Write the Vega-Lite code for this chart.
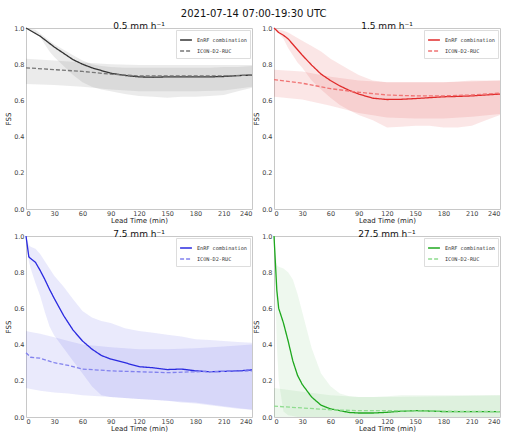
{
  "$schema": "https://vega.github.io/schema/vega-lite/v6.json",
  "padding": {"left": 4, "top": 8, "right": 5, "bottom": 0},
  "background": "white",
  "title": {"text": "2021-07-14 07:00-19:30 UTC", "fontSize": 10, "fontWeight": "normal", "font": "DejaVu Sans", "color": "#111", "anchor": "middle", "offset": 3},
  "config": {
    "font": "DejaVu Sans",
    "view": {"stroke": "#c8c8c8", "strokeWidth": 1},
    "axis": {"labelFontSize": 6.5, "titleFontSize": 7, "titleFontWeight": "normal", "labelColor": "#444", "titleColor": "#222", "domain": false, "grid": false, "ticks": false, "tickSize": 0, "labelPadding": 2, "titlePadding": 2, "labelOverlap": false, "tickCount": 20},
    "axisX": {"labelPadding": 1, "titlePadding": 0},
    "legend": {"orient": "top-right", "labelFont": "DejaVu Sans Mono", "labelFontSize": 5.2, "labelColor": "#333", "symbolType": "stroke", "symbolSize": 140, "symbolStrokeWidth": 1.5, "strokeColor": "#ddd", "fillColor": "white", "padding": 3, "offset": 2, "rowPadding": 0, "labelOffset": 4},
    "title": {"fontSize": 9, "fontWeight": "normal", "color": "#111"}
  },
  "datasets": {
    "d": [
      {"p": "0.5", "s": "EnRF combination", "t": 0, "m": 1.0, "lo": 1.0, "hi": 1.0},
      {"p": "0.5", "s": "EnRF combination", "t": 5, "m": 0.985, "lo": 0.985, "hi": 0.995},
      {"p": "0.5", "s": "EnRF combination", "t": 10, "m": 0.97, "lo": 0.965, "hi": 0.99},
      {"p": "0.5", "s": "EnRF combination", "t": 15, "m": 0.955, "lo": 0.95, "hi": 0.97},
      {"p": "0.5", "s": "EnRF combination", "t": 20, "m": 0.935, "lo": 0.91, "hi": 0.95},
      {"p": "0.5", "s": "EnRF combination", "t": 25, "m": 0.915, "lo": 0.87, "hi": 0.93},
      {"p": "0.5", "s": "EnRF combination", "t": 30, "m": 0.895, "lo": 0.84, "hi": 0.91},
      {"p": "0.5", "s": "EnRF combination", "t": 40, "m": 0.86, "lo": 0.79, "hi": 0.88},
      {"p": "0.5", "s": "EnRF combination", "t": 50, "m": 0.825, "lo": 0.74, "hi": 0.85},
      {"p": "0.5", "s": "EnRF combination", "t": 60, "m": 0.8, "lo": 0.7, "hi": 0.82},
      {"p": "0.5", "s": "EnRF combination", "t": 70, "m": 0.78, "lo": 0.675, "hi": 0.8},
      {"p": "0.5", "s": "EnRF combination", "t": 80, "m": 0.765, "lo": 0.66, "hi": 0.79},
      {"p": "0.5", "s": "EnRF combination", "t": 90, "m": 0.75, "lo": 0.65, "hi": 0.785},
      {"p": "0.5", "s": "EnRF combination", "t": 105, "m": 0.738, "lo": 0.635, "hi": 0.78},
      {"p": "0.5", "s": "EnRF combination", "t": 120, "m": 0.73, "lo": 0.625, "hi": 0.78},
      {"p": "0.5", "s": "EnRF combination", "t": 135, "m": 0.728, "lo": 0.62, "hi": 0.78},
      {"p": "0.5", "s": "EnRF combination", "t": 150, "m": 0.73, "lo": 0.615, "hi": 0.78},
      {"p": "0.5", "s": "EnRF combination", "t": 165, "m": 0.73, "lo": 0.62, "hi": 0.78},
      {"p": "0.5", "s": "EnRF combination", "t": 180, "m": 0.73, "lo": 0.62, "hi": 0.78},
      {"p": "0.5", "s": "EnRF combination", "t": 195, "m": 0.73, "lo": 0.625, "hi": 0.78},
      {"p": "0.5", "s": "EnRF combination", "t": 210, "m": 0.732, "lo": 0.63, "hi": 0.785},
      {"p": "0.5", "s": "EnRF combination", "t": 225, "m": 0.737, "lo": 0.65, "hi": 0.785},
      {"p": "0.5", "s": "EnRF combination", "t": 240, "m": 0.74, "lo": 0.67, "hi": 0.79},
      {"p": "0.5", "s": "ICON-D2-RUC", "t": 0, "m": 0.78, "lo": 0.69, "hi": 0.83},
      {"p": "0.5", "s": "ICON-D2-RUC", "t": 30, "m": 0.77, "lo": 0.685, "hi": 0.82},
      {"p": "0.5", "s": "ICON-D2-RUC", "t": 60, "m": 0.76, "lo": 0.675, "hi": 0.81},
      {"p": "0.5", "s": "ICON-D2-RUC", "t": 90, "m": 0.745, "lo": 0.66, "hi": 0.8},
      {"p": "0.5", "s": "ICON-D2-RUC", "t": 120, "m": 0.735, "lo": 0.65, "hi": 0.795},
      {"p": "0.5", "s": "ICON-D2-RUC", "t": 150, "m": 0.735, "lo": 0.65, "hi": 0.795},
      {"p": "0.5", "s": "ICON-D2-RUC", "t": 180, "m": 0.735, "lo": 0.65, "hi": 0.795},
      {"p": "0.5", "s": "ICON-D2-RUC", "t": 210, "m": 0.735, "lo": 0.655, "hi": 0.795},
      {"p": "0.5", "s": "ICON-D2-RUC", "t": 240, "m": 0.74, "lo": 0.675, "hi": 0.795},

      {"p": "1.5", "s": "EnRF combination", "t": 0, "m": 1.0, "lo": 1.0, "hi": 1.0},
      {"p": "1.5", "s": "EnRF combination", "t": 5, "m": 0.975, "lo": 0.97, "hi": 0.99},
      {"p": "1.5", "s": "EnRF combination", "t": 10, "m": 0.96, "lo": 0.94, "hi": 0.985},
      {"p": "1.5", "s": "EnRF combination", "t": 15, "m": 0.94, "lo": 0.89, "hi": 0.975},
      {"p": "1.5", "s": "EnRF combination", "t": 20, "m": 0.91, "lo": 0.85, "hi": 0.96},
      {"p": "1.5", "s": "EnRF combination", "t": 25, "m": 0.88, "lo": 0.81, "hi": 0.945},
      {"p": "1.5", "s": "EnRF combination", "t": 30, "m": 0.85, "lo": 0.78, "hi": 0.93},
      {"p": "1.5", "s": "EnRF combination", "t": 40, "m": 0.795, "lo": 0.71, "hi": 0.9},
      {"p": "1.5", "s": "EnRF combination", "t": 50, "m": 0.745, "lo": 0.66, "hi": 0.87},
      {"p": "1.5", "s": "EnRF combination", "t": 60, "m": 0.71, "lo": 0.615, "hi": 0.83},
      {"p": "1.5", "s": "EnRF combination", "t": 70, "m": 0.68, "lo": 0.575, "hi": 0.8},
      {"p": "1.5", "s": "EnRF combination", "t": 80, "m": 0.655, "lo": 0.545, "hi": 0.77},
      {"p": "1.5", "s": "EnRF combination", "t": 90, "m": 0.635, "lo": 0.52, "hi": 0.74},
      {"p": "1.5", "s": "EnRF combination", "t": 105, "m": 0.612, "lo": 0.49, "hi": 0.71},
      {"p": "1.5", "s": "EnRF combination", "t": 120, "m": 0.605, "lo": 0.45, "hi": 0.7},
      {"p": "1.5", "s": "EnRF combination", "t": 135, "m": 0.606, "lo": 0.455, "hi": 0.7},
      {"p": "1.5", "s": "EnRF combination", "t": 150, "m": 0.61, "lo": 0.46, "hi": 0.7},
      {"p": "1.5", "s": "EnRF combination", "t": 165, "m": 0.615, "lo": 0.46, "hi": 0.7},
      {"p": "1.5", "s": "EnRF combination", "t": 180, "m": 0.62, "lo": 0.45, "hi": 0.7},
      {"p": "1.5", "s": "EnRF combination", "t": 195, "m": 0.622, "lo": 0.45, "hi": 0.705},
      {"p": "1.5", "s": "EnRF combination", "t": 210, "m": 0.625, "lo": 0.46, "hi": 0.71},
      {"p": "1.5", "s": "EnRF combination", "t": 225, "m": 0.63, "lo": 0.49, "hi": 0.71},
      {"p": "1.5", "s": "EnRF combination", "t": 240, "m": 0.635, "lo": 0.52, "hi": 0.71},
      {"p": "1.5", "s": "ICON-D2-RUC", "t": 0, "m": 0.715, "lo": 0.62, "hi": 0.77},
      {"p": "1.5", "s": "ICON-D2-RUC", "t": 30, "m": 0.695, "lo": 0.605, "hi": 0.76},
      {"p": "1.5", "s": "ICON-D2-RUC", "t": 60, "m": 0.665, "lo": 0.57, "hi": 0.73},
      {"p": "1.5", "s": "ICON-D2-RUC", "t": 90, "m": 0.645, "lo": 0.53, "hi": 0.71},
      {"p": "1.5", "s": "ICON-D2-RUC", "t": 120, "m": 0.63, "lo": 0.505, "hi": 0.7},
      {"p": "1.5", "s": "ICON-D2-RUC", "t": 150, "m": 0.625, "lo": 0.5, "hi": 0.7},
      {"p": "1.5", "s": "ICON-D2-RUC", "t": 180, "m": 0.625, "lo": 0.5, "hi": 0.7},
      {"p": "1.5", "s": "ICON-D2-RUC", "t": 210, "m": 0.63, "lo": 0.51, "hi": 0.705},
      {"p": "1.5", "s": "ICON-D2-RUC", "t": 240, "m": 0.64, "lo": 0.525, "hi": 0.71},

      {"p": "7.5", "s": "EnRF combination", "t": 0, "m": 1.0, "lo": 1.0, "hi": 1.0},
      {"p": "7.5", "s": "EnRF combination", "t": 3, "m": 0.885, "lo": 0.86, "hi": 0.95},
      {"p": "7.5", "s": "EnRF combination", "t": 5, "m": 0.875, "lo": 0.82, "hi": 0.94},
      {"p": "7.5", "s": "EnRF combination", "t": 10, "m": 0.855, "lo": 0.74, "hi": 0.93},
      {"p": "7.5", "s": "EnRF combination", "t": 15, "m": 0.81, "lo": 0.67, "hi": 0.9},
      {"p": "7.5", "s": "EnRF combination", "t": 20, "m": 0.76, "lo": 0.58, "hi": 0.86},
      {"p": "7.5", "s": "EnRF combination", "t": 25, "m": 0.705, "lo": 0.5, "hi": 0.82},
      {"p": "7.5", "s": "EnRF combination", "t": 30, "m": 0.655, "lo": 0.45, "hi": 0.78},
      {"p": "7.5", "s": "EnRF combination", "t": 40, "m": 0.56, "lo": 0.38, "hi": 0.72},
      {"p": "7.5", "s": "EnRF combination", "t": 50, "m": 0.48, "lo": 0.31, "hi": 0.65},
      {"p": "7.5", "s": "EnRF combination", "t": 60, "m": 0.42, "lo": 0.24, "hi": 0.585},
      {"p": "7.5", "s": "EnRF combination", "t": 70, "m": 0.375, "lo": 0.17, "hi": 0.55},
      {"p": "7.5", "s": "EnRF combination", "t": 80, "m": 0.34, "lo": 0.12, "hi": 0.53},
      {"p": "7.5", "s": "EnRF combination", "t": 90, "m": 0.32, "lo": 0.11, "hi": 0.52},
      {"p": "7.5", "s": "EnRF combination", "t": 105, "m": 0.3, "lo": 0.105, "hi": 0.49},
      {"p": "7.5", "s": "EnRF combination", "t": 120, "m": 0.278, "lo": 0.1, "hi": 0.475},
      {"p": "7.5", "s": "EnRF combination", "t": 135, "m": 0.272, "lo": 0.095, "hi": 0.465},
      {"p": "7.5", "s": "EnRF combination", "t": 150, "m": 0.262, "lo": 0.09, "hi": 0.455},
      {"p": "7.5", "s": "EnRF combination", "t": 165, "m": 0.265, "lo": 0.08, "hi": 0.445},
      {"p": "7.5", "s": "EnRF combination", "t": 180, "m": 0.255, "lo": 0.075, "hi": 0.43},
      {"p": "7.5", "s": "EnRF combination", "t": 195, "m": 0.25, "lo": 0.065, "hi": 0.425},
      {"p": "7.5", "s": "EnRF combination", "t": 210, "m": 0.252, "lo": 0.055, "hi": 0.42},
      {"p": "7.5", "s": "EnRF combination", "t": 225, "m": 0.255, "lo": 0.045, "hi": 0.415},
      {"p": "7.5", "s": "EnRF combination", "t": 240, "m": 0.26, "lo": 0.04, "hi": 0.41},
      {"p": "7.5", "s": "ICON-D2-RUC", "t": 0, "m": 0.355, "lo": 0.16, "hi": 0.475},
      {"p": "7.5", "s": "ICON-D2-RUC", "t": 5, "m": 0.33, "lo": 0.155, "hi": 0.47},
      {"p": "7.5", "s": "ICON-D2-RUC", "t": 15, "m": 0.325, "lo": 0.145, "hi": 0.46},
      {"p": "7.5", "s": "ICON-D2-RUC", "t": 30, "m": 0.3, "lo": 0.135, "hi": 0.44},
      {"p": "7.5", "s": "ICON-D2-RUC", "t": 45, "m": 0.285, "lo": 0.13, "hi": 0.42},
      {"p": "7.5", "s": "ICON-D2-RUC", "t": 60, "m": 0.265, "lo": 0.12, "hi": 0.4},
      {"p": "7.5", "s": "ICON-D2-RUC", "t": 90, "m": 0.255, "lo": 0.11, "hi": 0.385},
      {"p": "7.5", "s": "ICON-D2-RUC", "t": 120, "m": 0.25, "lo": 0.1, "hi": 0.375},
      {"p": "7.5", "s": "ICON-D2-RUC", "t": 150, "m": 0.245, "lo": 0.09, "hi": 0.375},
      {"p": "7.5", "s": "ICON-D2-RUC", "t": 180, "m": 0.25, "lo": 0.08, "hi": 0.38},
      {"p": "7.5", "s": "ICON-D2-RUC", "t": 210, "m": 0.252, "lo": 0.06, "hi": 0.39},
      {"p": "7.5", "s": "ICON-D2-RUC", "t": 240, "m": 0.255, "lo": 0.04, "hi": 0.4},

      {"p": "27.5", "s": "EnRF combination", "t": 0, "m": 1.0, "lo": 1.0, "hi": 1.0},
      {"p": "27.5", "s": "EnRF combination", "t": 3, "m": 0.7, "lo": 0.4, "hi": 0.84},
      {"p": "27.5", "s": "EnRF combination", "t": 5, "m": 0.6, "lo": 0.2, "hi": 0.83},
      {"p": "27.5", "s": "EnRF combination", "t": 10, "m": 0.52, "lo": 0.03, "hi": 0.82},
      {"p": "27.5", "s": "EnRF combination", "t": 15, "m": 0.42, "lo": 0.01, "hi": 0.8},
      {"p": "27.5", "s": "EnRF combination", "t": 20, "m": 0.31, "lo": 0.005, "hi": 0.76},
      {"p": "27.5", "s": "EnRF combination", "t": 25, "m": 0.23, "lo": 0.0, "hi": 0.68},
      {"p": "27.5", "s": "EnRF combination", "t": 30, "m": 0.18, "lo": 0.0, "hi": 0.58},
      {"p": "27.5", "s": "EnRF combination", "t": 40, "m": 0.11, "lo": 0.0, "hi": 0.38},
      {"p": "27.5", "s": "EnRF combination", "t": 50, "m": 0.065, "lo": 0.0, "hi": 0.24},
      {"p": "27.5", "s": "EnRF combination", "t": 60, "m": 0.045, "lo": 0.0, "hi": 0.17},
      {"p": "27.5", "s": "EnRF combination", "t": 70, "m": 0.035, "lo": 0.0, "hi": 0.13},
      {"p": "27.5", "s": "EnRF combination", "t": 80, "m": 0.025, "lo": 0.0, "hi": 0.115},
      {"p": "27.5", "s": "EnRF combination", "t": 90, "m": 0.022, "lo": 0.0, "hi": 0.11},
      {"p": "27.5", "s": "EnRF combination", "t": 105, "m": 0.022, "lo": 0.0, "hi": 0.11},
      {"p": "27.5", "s": "EnRF combination", "t": 120, "m": 0.026, "lo": 0.0, "hi": 0.115},
      {"p": "27.5", "s": "EnRF combination", "t": 135, "m": 0.032, "lo": 0.0, "hi": 0.12},
      {"p": "27.5", "s": "EnRF combination", "t": 150, "m": 0.035, "lo": 0.0, "hi": 0.12},
      {"p": "27.5", "s": "EnRF combination", "t": 165, "m": 0.033, "lo": 0.0, "hi": 0.12},
      {"p": "27.5", "s": "EnRF combination", "t": 180, "m": 0.03, "lo": 0.0, "hi": 0.12},
      {"p": "27.5", "s": "EnRF combination", "t": 210, "m": 0.03, "lo": 0.0, "hi": 0.12},
      {"p": "27.5", "s": "EnRF combination", "t": 240, "m": 0.03, "lo": 0.0, "hi": 0.12},
      {"p": "27.5", "s": "ICON-D2-RUC", "t": 0, "m": 0.06, "lo": 0.0, "hi": 0.16},
      {"p": "27.5", "s": "ICON-D2-RUC", "t": 30, "m": 0.05, "lo": 0.0, "hi": 0.14},
      {"p": "27.5", "s": "ICON-D2-RUC", "t": 60, "m": 0.04, "lo": 0.0, "hi": 0.12},
      {"p": "27.5", "s": "ICON-D2-RUC", "t": 90, "m": 0.035, "lo": 0.0, "hi": 0.11},
      {"p": "27.5", "s": "ICON-D2-RUC", "t": 120, "m": 0.035, "lo": 0.0, "hi": 0.11},
      {"p": "27.5", "s": "ICON-D2-RUC", "t": 180, "m": 0.032, "lo": 0.0, "hi": 0.115},
      {"p": "27.5", "s": "ICON-D2-RUC", "t": 240, "m": 0.03, "lo": 0.0, "hi": 0.12}
    ]
  },
  "data": {"name": "d"},
  "columns": 2,
  "bounds": "flush",
  "spacing": {"row": 27, "column": 22},
  "resolve": {"scale": {"color": "independent", "strokeDash": "independent"}, "legend": {"color": "independent", "strokeDash": "independent"}},
  "concat": [
    {
      "width": 226, "height": 181,
      "title": {"text": "0.5 mm h⁻¹", "offset": -6},
      "transform": [{"filter": "datum.p == '0.5'"}],
      "layer": [
        {"transform": [{"filter": "datum.s == 'EnRF combination'"}], "mark": {"type": "area", "fill": "#808080", "opacity": 0.16},
         "encoding": {"x": {"field": "t", "type": "quantitative", "scale": {"domain": [0, 240], "nice": false}, "axis": {"values": [0,30,60,90,120,150,180,210,240], "tickCount": 20, "title": "Lead Time (min)", "labelOverlap": false}}, "y": {"field": "lo", "type": "quantitative", "scale": {"domain": [0, 1], "nice": false}, "axis": {"values": [0,0.2,0.4,0.6,0.8,1.0], "tickCount": 20, "format": ".1f", "title": "FSS", "labelOverlap": false}}, "y2": {"field": "hi"}}},
        {"transform": [{"filter": "datum.s == 'ICON-D2-RUC'"}], "mark": {"type": "area", "fill": "#808080", "opacity": 0.16},
         "encoding": {"x": {"field": "t", "type": "quantitative"}, "y": {"field": "lo", "type": "quantitative"}, "y2": {"field": "hi"}}},
        {"mark": {"type": "line", "strokeWidth": 1.3},
         "encoding": {"x": {"field": "t", "type": "quantitative"}, "y": {"field": "m", "type": "quantitative"},
           "color": {"field": "s", "type": "nominal", "title": null, "scale": {"domain": ["EnRF combination", "ICON-D2-RUC"], "range": ["#333333", "#777777"]}},
           "strokeDash": {"field": "s", "type": "nominal", "title": null, "scale": {"domain": ["EnRF combination", "ICON-D2-RUC"], "range": [[1, 0], [4, 2]]}}}}
      ]
    },
    {
      "width": 226, "height": 181,
      "title": {"text": "1.5 mm h⁻¹", "offset": -6},
      "transform": [{"filter": "datum.p == '1.5'"}],
      "layer": [
        {"transform": [{"filter": "datum.s == 'EnRF combination'"}], "mark": {"type": "area", "fill": "#e03030", "opacity": 0.12},
         "encoding": {"x": {"field": "t", "type": "quantitative", "scale": {"domain": [0, 240], "nice": false}, "axis": {"values": [0,30,60,90,120,150,180,210,240], "tickCount": 20, "title": "Lead Time (min)", "labelOverlap": false}}, "y": {"field": "lo", "type": "quantitative", "scale": {"domain": [0, 1], "nice": false}, "axis": {"values": [0,0.2,0.4,0.6,0.8,1.0], "tickCount": 20, "format": ".1f", "title": "FSS", "labelOverlap": false}}, "y2": {"field": "hi"}}},
        {"transform": [{"filter": "datum.s == 'ICON-D2-RUC'"}], "mark": {"type": "area", "fill": "#e03030", "opacity": 0.12},
         "encoding": {"x": {"field": "t", "type": "quantitative"}, "y": {"field": "lo", "type": "quantitative"}, "y2": {"field": "hi"}}},
        {"mark": {"type": "line", "strokeWidth": 1.3},
         "encoding": {"x": {"field": "t", "type": "quantitative"}, "y": {"field": "m", "type": "quantitative"},
           "color": {"field": "s", "type": "nominal", "title": null, "scale": {"domain": ["EnRF combination", "ICON-D2-RUC"], "range": ["#e02a2a", "#f07373"]}},
           "strokeDash": {"field": "s", "type": "nominal", "title": null, "scale": {"domain": ["EnRF combination", "ICON-D2-RUC"], "range": [[1, 0], [4, 2]]}}}}
      ]
    },
    {
      "width": 226, "height": 181,
      "title": {"text": "7.5 mm h⁻¹", "offset": -6},
      "transform": [{"filter": "datum.p == '7.5'"}],
      "layer": [
        {"transform": [{"filter": "datum.s == 'EnRF combination'"}], "mark": {"type": "area", "fill": "#3535dd", "opacity": 0.1},
         "encoding": {"x": {"field": "t", "type": "quantitative", "scale": {"domain": [0, 240], "nice": false}, "axis": {"values": [0,30,60,90,120,150,180,210,240], "tickCount": 20, "title": "Lead Time (min)", "labelOverlap": false}}, "y": {"field": "lo", "type": "quantitative", "scale": {"domain": [0, 1], "nice": false}, "axis": {"values": [0,0.2,0.4,0.6,0.8,1.0], "tickCount": 20, "format": ".1f", "title": "FSS", "labelOverlap": false}}, "y2": {"field": "hi"}}},
        {"transform": [{"filter": "datum.s == 'ICON-D2-RUC'"}], "mark": {"type": "area", "fill": "#3535dd", "opacity": 0.1},
         "encoding": {"x": {"field": "t", "type": "quantitative"}, "y": {"field": "lo", "type": "quantitative"}, "y2": {"field": "hi"}}},
        {"mark": {"type": "line", "strokeWidth": 1.3},
         "encoding": {"x": {"field": "t", "type": "quantitative"}, "y": {"field": "m", "type": "quantitative"},
           "color": {"field": "s", "type": "nominal", "title": null, "scale": {"domain": ["EnRF combination", "ICON-D2-RUC"], "range": ["#2a2ae0", "#8282ee"]}},
           "strokeDash": {"field": "s", "type": "nominal", "title": null, "scale": {"domain": ["EnRF combination", "ICON-D2-RUC"], "range": [[1, 0], [4, 2]]}}}}
      ]
    },
    {
      "width": 226, "height": 181,
      "title": {"text": "27.5 mm h⁻¹", "offset": -6},
      "transform": [{"filter": "datum.p == '27.5'"}],
      "layer": [
        {"transform": [{"filter": "datum.s == 'EnRF combination'"}], "mark": {"type": "area", "fill": "#22aa22", "opacity": 0.08},
         "encoding": {"x": {"field": "t", "type": "quantitative", "scale": {"domain": [0, 240], "nice": false}, "axis": {"values": [0,30,60,90,120,150,180,210,240], "tickCount": 20, "title": "Lead Time (min)", "labelOverlap": false}}, "y": {"field": "lo", "type": "quantitative", "scale": {"domain": [0, 1], "nice": false}, "axis": {"values": [0,0.2,0.4,0.6,0.8,1.0], "tickCount": 20, "format": ".1f", "title": "FSS", "labelOverlap": false}}, "y2": {"field": "hi"}}},
        {"transform": [{"filter": "datum.s == 'ICON-D2-RUC'"}], "mark": {"type": "area", "fill": "#22aa22", "opacity": 0.08},
         "encoding": {"x": {"field": "t", "type": "quantitative"}, "y": {"field": "lo", "type": "quantitative"}, "y2": {"field": "hi"}}},
        {"mark": {"type": "line", "strokeWidth": 1.3},
         "encoding": {"x": {"field": "t", "type": "quantitative"}, "y": {"field": "m", "type": "quantitative"},
           "color": {"field": "s", "type": "nominal", "title": null, "scale": {"domain": ["EnRF combination", "ICON-D2-RUC"], "range": ["#1ea81e", "#8fdc8f"]}},
           "strokeDash": {"field": "s", "type": "nominal", "title": null, "scale": {"domain": ["EnRF combination", "ICON-D2-RUC"], "range": [[1, 0], [4, 2]]}}}}
      ]
    }
  ]
}
